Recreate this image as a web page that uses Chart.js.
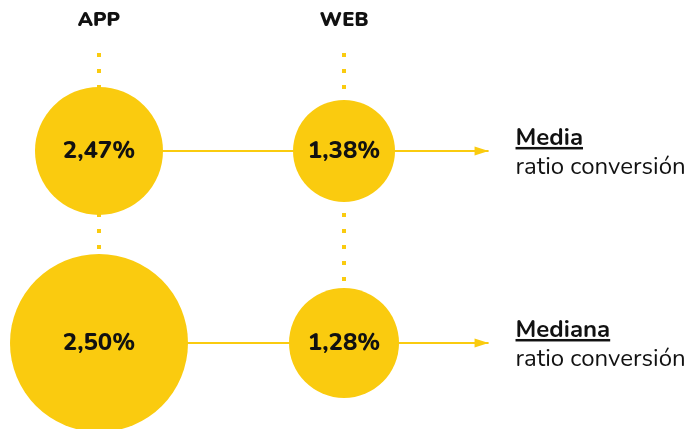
<!DOCTYPE html>
<html>
<head>
<meta charset="utf-8">
<script src="https://cdn.jsdelivr.net/npm/chart.js@4.4.0/dist/chart.umd.min.js"></script>
<style>
    html, body { margin: 0; padding: 0; background: #fff; }
    #wrap { width: 689px; height: 429px; }
</style>
</head>
<body>
<div id="wrap"><canvas id="chart"></canvas></div>
<script>
// channels (columns) and measures (rows)
const channels = ['APP', 'WEB'];
const measures = ['Media', 'Mediana'];
const measureSub = 'ratio conversión';
// conversion ratio in %, one array per measure, in channel order
const mediaValues = [2.47, 1.38];
const medianaValues = [2.50, 1.28];
// bubble radius as drawn in the picture (px)
const mediaSizes = [64, 51];
const medianaSizes = [89, 55];

const YELLOW = '#FACB0F';
const FONT = 'Nunito, Lato, "Open Sans", sans-serif';

const fmt = v => v.toFixed(2).replace('.', ',') + '%';

const ARROW_END = 1.59;   // x where the arrows stop
const TEXT_X = 1.70;      // x of the row captions
const HEADER_Y = -0.68;
const DOTS_TOP = -0.51;

const bubbleData = [];
[mediaValues, medianaValues].forEach((vals, row) => {
    const sizes = row === 0 ? mediaSizes : medianaSizes;
    vals.forEach((v, col) => {
        bubbleData.push({ x: col, y: row, r: sizes[col], v: v });
    });
});

const datasets = [{
    type: 'bubble',
    data: bubbleData,
    backgroundColor: YELLOW,
    borderWidth: 0,
    hoverBorderWidth: 0,
    clip: false,
    order: 0
}];

// horizontal arrows, one per measure
measures.forEach((m, row) => {
    datasets.push({
        type: 'line',
        data: [{ x: 0, y: row }, { x: ARROW_END, y: row }],
        borderColor: YELLOW,
        borderWidth: 2,
        pointRadius: 0,
        arrow: true,
        order: 2
    });
});

// dotted verticals under each channel
channels.forEach((c, col) => {
    datasets.push({
        type: 'line',
        data: [{ x: col, y: DOTS_TOP }, { x: col, y: measures.length - 1 }],
        borderColor: YELLOW,
        borderWidth: 4,
        borderDash: [4, 12],
        borderCapStyle: 'butt',
        pointRadius: 0,
        order: 3
    });
});

const textPlugin = {
    id: 'texts',
    afterDatasetsDraw(chart) {
        const ctx = chart.ctx;
        const xs = chart.scales.x, ys = chart.scales.y;
        ctx.save();

        // arrow heads
        chart.data.datasets.forEach((ds, i) => {
            if (!ds.arrow) return;
            const pts = chart.getDatasetMeta(i).data;
            const p = pts[pts.length - 1];
            ctx.fillStyle = YELLOW;
            ctx.beginPath();
            ctx.moveTo(p.x, p.y);
            ctx.lineTo(p.x - 14, p.y - 4.5);
            ctx.lineTo(p.x - 14, p.y + 4.5);
            ctx.closePath();
            ctx.fill();
        });

        // values in bubbles
        ctx.fillStyle = '#111';
        ctx.textAlign = 'center';
        ctx.textBaseline = 'middle';
        ctx.font = '800 24px ' + FONT;
        bubbleData.forEach(d => {
            ctx.fillText(fmt(d.v), xs.getPixelForValue(d.x), ys.getPixelForValue(d.y) + 1);
        });

        // column headers
        ctx.font = '900 20px ' + FONT;
        channels.forEach((c, col) => {
            ctx.fillText(c, xs.getPixelForValue(col), ys.getPixelForValue(HEADER_Y) + 1);
        });

        // row captions
        ctx.textAlign = 'left';
        ctx.textBaseline = 'alphabetic';
        const tx = xs.getPixelForValue(TEXT_X);
        measures.forEach((m, row) => {
            const y = ys.getPixelForValue(row);
            ctx.font = 'bold 24px ' + FONT;
            ctx.fillText(m, tx, y - 6);
            const w = ctx.measureText(m).width;
            ctx.fillRect(tx, y - 4, w, 2.5);
            ctx.font = '24px ' + FONT;
            ctx.fillText(measureSub, tx, y + 23);
        });
        ctx.restore();
    }
};

new Chart(document.getElementById('chart'), {
    type: 'bubble',
    data: { datasets: datasets },
    options: {
        responsive: true,
        maintainAspectRatio: false,
        animation: false,
        layout: { padding: 0, autoPadding: false },
        scales: {
            x: { type: 'linear', display: false, min: -0.404, max: 2.408 },
            y: { type: 'linear', display: false, reverse: true, min: -0.786, max: 1.448 }
        },
        plugins: {
            legend: { display: false },
            tooltip: { enabled: false }
        }
    },
    plugins: [textPlugin]
});
</script>
</body>
</html>
